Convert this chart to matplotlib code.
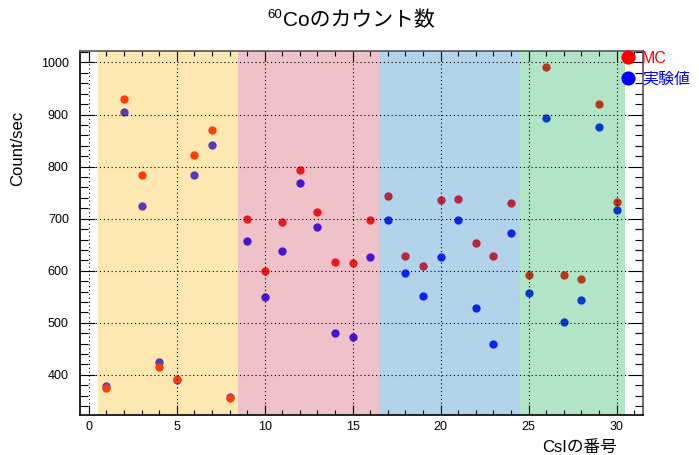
import matplotlib
matplotlib.use('Agg')
import matplotlib.pyplot as plt
from matplotlib.ticker import MultipleLocator

# 英数字はLiberation Sans、日本語はNoto Sans CJK JPで描く
plt.rcParams['font.family'] = ['Liberation Sans', 'Noto Sans CJK JP']

# CsI結晶の番号と計数率 (Count/sec)
csi_no = list(range(1, 31))
mc_rate = [374, 930, 784, 416, 392, 822, 870, 356, 699, 600,
           694, 794, 713, 617, 614, 698, 744, 629, 610, 735,
           738, 654, 629, 730, 591, 991, 591, 585, 920, 733]
exp_rate = [379, 904, 725, 424, 391, 783, 842, 357, 657, 549,
            637, 768, 684, 481, 473, 626, 698, 595, 552, 627,
            698, 529, 460, 672, 557, 894, 501, 544, 877, 716]

# 結晶グループの境界と塗り色
group_edges = [0.5, 8.5, 16.5, 24.5, 30.5]
group_colors = ['#fcbc16', '#d1465e', '#167ac2', '#16b358']

fig = plt.figure(figsize=(6.99, 4.55), dpi=100)
ax = fig.add_axes([0.1144, 0.0879, 0.8054, 0.8])

# 点を先に描き、半透明の帯を上に重ねる
exp_line, = ax.plot(csi_no, exp_rate, 'o', color='blue', ms=6, mec='none', zorder=1)
mc_line, = ax.plot(csi_no, mc_rate, 'o', color='red', ms=6, mec='none', zorder=1.1)

for lo, hi, c in zip(group_edges[:-1], group_edges[1:], group_colors):
    ax.axvspan(lo, hi, color=c, alpha=0.33, lw=0, zorder=1.2)

ax.set_xlim(-0.5, 31.5)
ax.set_ylim(323, 1022)
ax.xaxis.set_major_locator(MultipleLocator(5))
ax.xaxis.set_minor_locator(MultipleLocator(1))
ax.yaxis.set_major_locator(MultipleLocator(100))
ax.yaxis.set_minor_locator(MultipleLocator(20))

ax.set_axisbelow('line')
ax.grid(True, which='major', color='black', ls=(0, (1, 2.5)), lw=0.8)

ax.tick_params(which='both', direction='in', top=True, right=True, width=0.8,
               labelsize=9)
ax.tick_params(axis='y', which='major', length=10.5, pad=8)
ax.tick_params(axis='y', which='minor', length=5.5)
ax.tick_params(axis='x', which='major', length=7.5, pad=4)
ax.tick_params(axis='x', which='minor', length=3.8)

for side in ['left', 'bottom']:
    ax.spines[side].set_linewidth(1.2)
for side in ['top', 'right']:
    ax.spines[side].set_color('#555555')
    ax.spines[side].set_linewidth(1.2)

# タイトル (上付きの質量数は別に置く)
fig.text(283 / 699, 1 - 26 / 455, 'Coのカウント数', fontsize=15,
         ha='left', va='baseline')
fig.text(282 / 699, 1 - 18 / 455, '60', fontsize=9.5,
         ha='right', va='baseline')

fig.text(18 / 699, 1 - 148 / 455, 'Count/sec', rotation=90, fontsize=12,
         ha='center', va='center')
fig.text(617 / 699, 1 - 447 / 455, 'CsIの番号', fontsize=12,
         ha='right', va='center')

fig.legend([mc_line, exp_line], ['MC', '実験値'], loc='upper left',
           bbox_to_anchor=(619.7 / 699, 1 - 51 / 455), frameon=False,
           fontsize=11.5, markerscale=1.7, handlelength=1.0,
           handletextpad=0.4, borderpad=0, borderaxespad=0,
           labelspacing=0.35, labelcolor=['red', 'blue'])

fig.savefig('out.png', dpi=100)
